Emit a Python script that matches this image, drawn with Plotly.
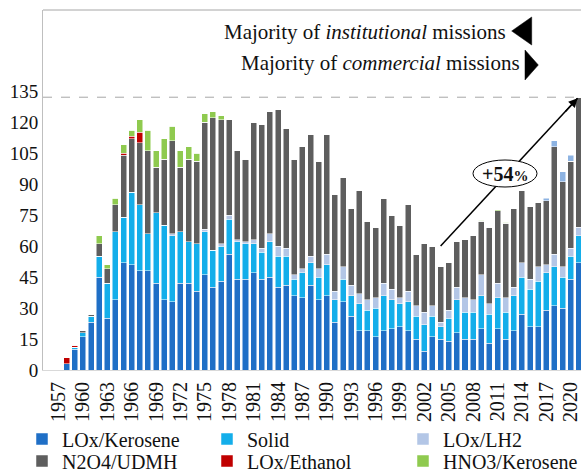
import plotly.graph_objects as go

# ---------------- data ----------------
years = list(range(1957, 2022))
lox_kerosene = [0, 3, 10, 16, 23, 45, 25, 34, 52, 51,
                48, 48, 42, 34, 33, 42, 42, 38, 46, 40,
                43, 56, 44, 44, 47, 44, 45, 40, 41, 36,
                35, 41, 34, 36, 23, 33, 26, 19, 19, 16,
                19, 20, 21, 19, 15, 9, 16, 15, 14, 18,
                15, 15, 20, 13, 20, 15, 19, 27, 21, 21,
                29, 31, 30, 44, 52]
solid = [0, 0, 1, 2, 3, 10, 17, 33, 22, 35,
         32, 18, 34, 36, 32, 25, 20, 23, 21, 18,
         17, 17, 18, 17, 14, 13, 17, 15, 14, 8,
         12, 11, 11, 15, 11, 11, 10, 13, 10, 14,
         17, 14, 11, 14, 11, 13, 10, 6, 11, 16,
         13, 13, 16, 14, 15, 13, 17, 18, 18, 22,
         18, 19, 15, 11, 13]
lox_lh2 = [0, 0, 0, 0, 0, 0, 0, 0, 0, 0,
           0, 0, 0, 0, 1, 0, 0, 0, 1, 0,
           1, 2, 1, 1, 2, 2, 4, 5, 4, 2,
           2, 3, 4, 5, 4, 6, 5, 5, 5, 5,
           6, 5, 3, 5, 5, 6, 5, 2, 4, 6,
           7, 6, 10, 5, 7, 7, 4, 7, 5, 7,
           4, 6, 5, 4, 4]
n2o4_udmh = [0, 0, 0, 1, 1, 6, 7, 13, 30, 26,
             30, 40, 22, 32, 45, 31, 40, 40, 52, 64,
             60, 46, 43, 40, 57, 60, 59, 66, 58, 56,
             59, 59, 52, 58, 47, 43, 37, 50, 38, 34,
             41, 36, 35, 42, 25, 33, 29, 27, 23, 22,
             28, 31, 26, 37, 35, 36, 38, 35, 35, 31,
             31, 52, 41, 42, 63]
lox_ethanol = [0, 3, 1, 0, 0, 0, 0, 0, 1, 1,
               5, 0, 0, 0, 0, 0, 0, 0, 0, 0,
               0, 0, 0, 0, 0, 0, 0, 0, 0, 0,
               0, 0, 0, 0, 0, 0, 0, 0, 0, 0,
               0, 0, 0, 0, 0, 0, 0, 0, 0, 0,
               0, 0, 0, 0, 0, 0, 0, 0, 0, 0,
               0, 0, 0, 0, 0]
hno3_kerosene = [0, 0, 0, 0, 0, 4, 2, 3, 4, 3,
                 6, 10, 8, 10, 7, 8, 6, 4, 4, 3,
                 2, 0, 0, 0, 0, 0, 0, 0, 0, 0,
                 0, 0, 0, 0, 0, 0, 0, 0, 0, 0,
                 0, 0, 0, 0, 0, 0, 0, 0, 0, 0,
                 0, 0, 0.5, 0, 0.5, 0.5, 0, 0, 0, 0,
                 0, 0, 0, 0, 0]
other = [0] * 60 + [1, 3, 5, 3, 0]

series_names = ["LOx/Kerosene", "Solid", "LOx/LH2",
                "N2O4/UDMH", "LOx/Ethanol", "HNO3/Kerosene"]
series_values = [lox_kerosene, solid, lox_lh2, n2o4_udmh, lox_ethanol, hno3_kerosene]
series_colors = ["#1f6fc6", "#14aeea", "#b3c6e6", "#5e5e5e", "#c00000", "#8fca4f"]

y_ticks = list(range(0, 136, 15))
x_ticks = list(range(1957, 2021, 3))
peak_value = 132
arrow_from = (2004, 60)
arrow_to = (2020.85, 131.5)

# ---------------- geometry helpers ----------------
W, H = 581, 473
ML, MR, MT, MB = 43, 0, 10, 103
PW, PH = W - ML - MR, H - MT - MB


def px(x):
    return (x - ML) / PW


def py(y):
    return (H - MB - y) / PH


SERIF = "Liberation Serif, Times New Roman, serif"

fig = go.Figure()

legend_pos = [(62, 439), (247, 439), (443, 439), (62, 461), (247, 461), (443, 461)]
for i, (name, vals, col) in enumerate(zip(series_names, series_values, series_colors)):
    lg = "legend" if i == 0 else f"legend{i + 1}"
    fig.add_trace(go.Bar(x=years, y=vals, name=name, marker_color=col,
                         marker_line_color="white", marker_line_width=0.5,
                         legend=lg))
fig.add_trace(go.Bar(x=years, y=other, name="Other", marker_color="#8db3e2",
                     marker_line_color="white", marker_line_width=0.5,
                     showlegend=False))

layout_legends = {}
for i, (tx, ty) in enumerate(legend_pos):
    key = "legend" if i == 0 else f"legend{i + 1}"
    layout_legends[key] = dict(xref="container", yref="container",
                               x=(tx - 40) / W, y=1 - ty / H, xanchor="left", yanchor="middle",
                               bgcolor="rgba(0,0,0,0)", borderwidth=0,
                               font=dict(family=SERIF, size=20, color="#111"))

fig.update_layout(
    width=W, height=H,
    margin=dict(l=ML, r=MR, t=MT, b=MB, pad=0, autoexpand=False),
    paper_bgcolor="white", plot_bgcolor="white",
    barmode="stack", bargap=0.26,
    font=dict(family=SERIF, color="#111"),
    xaxis=dict(range=[1955.09, 2021.27], tickvals=x_ticks, ticktext=[str(v) for v in x_ticks],
               tickangle=-90, showgrid=False, zeroline=False, showline=True,
               linecolor="#d9d9d9", linewidth=1, ticks="", ticklabelstandoff=3,
               ticklabeloverflow="allow",
               tickfont=dict(family=SERIF, size=20, color="#111")),
    yaxis=dict(range=[0, 174.2], tickvals=y_ticks, showgrid=False, zeroline=False,
               showline=True, linecolor="#bfbfbf", linewidth=1, ticks="",
               ticklabeloverflow="allow",
               tickfont=dict(family=SERIF, size=19, color="#111")),
    **layout_legends,
)

shapes = [
    dict(type="line", xref="paper", yref="paper", x0=0, x1=1, y0=1, y1=1,
         line=dict(color="#a6a6a6", width=1)),
    dict(type="line", xref="paper", yref="y", x0=0, x1=1, y0=peak_value, y1=peak_value,
         line=dict(color="#a6a6a6", width=1, dash="dash")),
    dict(type="line", xref="x", yref="y", x0=arrow_from[0], y0=arrow_from[1],
         x1=arrow_to[0], y1=arrow_to[1], line=dict(color="black", width=1.5)),
    dict(type="circle", xref="paper", yref="paper", x0=px(473), x1=px(537),
         y0=py(187), y1=py(160), fillcolor="white", line=dict(color="black", width=1)),
    dict(type="path", xref="paper", yref="paper",
         path=f"M{px(511.7)},{py(31)} L{px(531.7)},{py(17)} L{px(531.7)},{py(45)} Z",
         fillcolor="black", line=dict(color="black", width=0.5)),
    dict(type="path", xref="paper", yref="paper",
         path=f"M{px(525)},{py(50)} L{px(525)},{py(80)} L{px(538.3)},{py(65)} Z",
         fillcolor="black", line=dict(color="black", width=0.5)),
]
fig.update_layout(shapes=shapes)

fig.add_annotation(text="Majority of <i>institutional</i> missions", xref="paper", yref="paper",
                   x=px(508), y=py(31.7), xanchor="right", yanchor="middle", showarrow=False,
                   font=dict(family=SERIF, size=21, color="#111"))
fig.add_annotation(text="Majority of <i>commercial</i> missions", xref="paper", yref="paper",
                   x=px(521.7), y=py(63), xanchor="right", yanchor="middle", showarrow=False,
                   font=dict(family=SERIF, size=21, color="#111"))
fig.add_annotation(text="<b>+54<span style='font-size:15px'>%</span></b>", xref="paper", yref="paper",
                   x=px(505), y=py(173.5), xanchor="center", yanchor="middle", showarrow=False,
                   font=dict(family=SERIF, size=20, color="#111"))
fig.add_annotation(text="", xref="x", yref="y", x=arrow_to[0], y=arrow_to[1],
                   ax=-13.5, ay=14.7, showarrow=True, arrowhead=2, arrowsize=1.2,
                   arrowwidth=1.5, arrowcolor="black")

fig.write_html(
    "out.html",
    config={"displayModeBar": False},
    post_script="document.body.style.margin='0';document.documentElement.style.overflow='hidden';",
)
